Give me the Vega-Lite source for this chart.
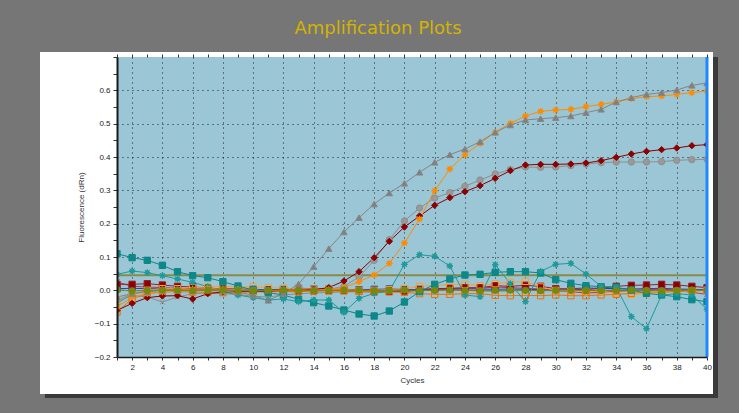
{
"$schema": "https://vega.github.io/schema/vega-lite/v6.json",
"width": 590, "height": 300,
"autosize": "none",
"padding": {"left": 117, "top": 57, "right": 32, "bottom": 56},
"background": "#767676",
"title": {"text": "Amplification Plots", "font": "DejaVu Sans", "fontSize": 18, "fontWeight": "normal", "color": "#d4b300", "anchor": "middle", "frame": "group", "dx": -34, "baseline": "alphabetic", "offset": 0},
"config": {
  "view": {"fill": "#9ac6d6", "stroke": null},
  "axis": {"labelFont": "Liberation Sans", "labelFontSize": 8, "labelColor": "#222", "titleFont": "Liberation Sans", "titleFontSize": 8, "titleFontWeight": "normal", "titleColor": "#333", "tickColor": "#333", "domainColor": "#1a1a1a"}
},
"datasets": {"pcr": [
{"s":"s01","c":1,"v":-0.035},{"s":"s01","c":2,"v":-0.015},{"s":"s01","c":3,"v":-0.02},{"s":"s01","c":4,"v":-0.035},{"s":"s01","c":5,"v":-0.02},{"s":"s01","c":6,"v":-0.01},{"s":"s01","c":7,"v":-0.008},{"s":"s01","c":8,"v":-0.01},{"s":"s01","c":9,"v":-0.012},{"s":"s01","c":10,"v":-0.018},{"s":"s01","c":11,"v":-0.02},{"s":"s01","c":12,"v":-0.014},{"s":"s01","c":13,"v":-0.01},{"s":"s01","c":14,"v":-0.008},{"s":"s01","c":15,"v":-0.006},{"s":"s01","c":16,"v":-0.005},{"s":"s01","c":17,"v":-0.004},{"s":"s01","c":18,"v":-0.003},{"s":"s01","c":19,"v":-0.002},{"s":"s01","c":20,"v":-0.001},{"s":"s01","c":21,"v":0},{"s":"s01","c":22,"v":0.001},{"s":"s01","c":23,"v":0.002},{"s":"s01","c":24,"v":0},{"s":"s01","c":25,"v":-0.002},{"s":"s01","c":26,"v":-0.003},{"s":"s01","c":27,"v":-0.002},{"s":"s01","c":28,"v":0},{"s":"s01","c":29,"v":0.001},{"s":"s01","c":30,"v":0.002},{"s":"s01","c":31,"v":0},{"s":"s01","c":32,"v":-0.002},{"s":"s01","c":33,"v":-0.004},{"s":"s01","c":34,"v":-0.003},{"s":"s01","c":35,"v":-0.002},{"s":"s01","c":36,"v":0},{"s":"s01","c":37,"v":0.002},{"s":"s01","c":38,"v":0.001},{"s":"s01","c":39,"v":0},{"s":"s01","c":40,"v":-0.001},
{"s":"s02","c":1,"v":-0.04},{"s":"s02","c":2,"v":-0.01},{"s":"s02","c":3,"v":-0.003},{"s":"s02","c":4,"v":0},{"s":"s02","c":5,"v":0.002},{"s":"s02","c":6,"v":0.003},{"s":"s02","c":7,"v":0.002},{"s":"s02","c":8,"v":0},{"s":"s02","c":9,"v":-0.002},{"s":"s02","c":10,"v":-0.003},{"s":"s02","c":11,"v":-0.002},{"s":"s02","c":12,"v":0},{"s":"s02","c":13,"v":0.001},{"s":"s02","c":14,"v":0.002},{"s":"s02","c":15,"v":0},{"s":"s02","c":16,"v":-0.001},{"s":"s02","c":17,"v":0},{"s":"s02","c":18,"v":0.001},{"s":"s02","c":19,"v":0},{"s":"s02","c":20,"v":-0.002},{"s":"s02","c":21,"v":-0.001},{"s":"s02","c":22,"v":0},{"s":"s02","c":23,"v":0.002},{"s":"s02","c":24,"v":0.001},{"s":"s02","c":25,"v":0},{"s":"s02","c":26,"v":-0.001},{"s":"s02","c":27,"v":0},{"s":"s02","c":28,"v":0.001},{"s":"s02","c":29,"v":0},{"s":"s02","c":30,"v":-0.002},{"s":"s02","c":31,"v":-0.003},{"s":"s02","c":32,"v":-0.002},{"s":"s02","c":33,"v":0},{"s":"s02","c":34,"v":0.001},{"s":"s02","c":35,"v":0},{"s":"s02","c":36,"v":-0.001},{"s":"s02","c":37,"v":0},{"s":"s02","c":38,"v":0.002},{"s":"s02","c":39,"v":0.001},{"s":"s02","c":40,"v":0},
{"s":"s03","c":1,"v":0.005},{"s":"s03","c":2,"v":0.006},{"s":"s03","c":3,"v":0.005},{"s":"s03","c":4,"v":0.004},{"s":"s03","c":5,"v":0.004},{"s":"s03","c":6,"v":0.003},{"s":"s03","c":7,"v":0.004},{"s":"s03","c":8,"v":0.005},{"s":"s03","c":9,"v":0.004},{"s":"s03","c":10,"v":0.003},{"s":"s03","c":11,"v":0.002},{"s":"s03","c":12,"v":0.003},{"s":"s03","c":13,"v":0.006},{"s":"s03","c":14,"v":0.005},{"s":"s03","c":15,"v":0.004},{"s":"s03","c":16,"v":0.003},{"s":"s03","c":17,"v":0.002},{"s":"s03","c":18,"v":0.003},{"s":"s03","c":19,"v":0.004},{"s":"s03","c":20,"v":0.003},{"s":"s03","c":21,"v":0.002},{"s":"s03","c":22,"v":0.003},{"s":"s03","c":23,"v":0.004},{"s":"s03","c":24,"v":0.005},{"s":"s03","c":25,"v":0.004},{"s":"s03","c":26,"v":0.003},{"s":"s03","c":27,"v":0.004},{"s":"s03","c":28,"v":0.003},{"s":"s03","c":29,"v":0.002},{"s":"s03","c":30,"v":0.003},{"s":"s03","c":31,"v":0.005},{"s":"s03","c":32,"v":0.007},{"s":"s03","c":33,"v":0.006},{"s":"s03","c":34,"v":0.005},{"s":"s03","c":35,"v":0.004},{"s":"s03","c":36,"v":0.005},{"s":"s03","c":37,"v":0.006},{"s":"s03","c":38,"v":0.004},{"s":"s03","c":39,"v":0.003},{"s":"s03","c":40,"v":0.002},
{"s":"s04","c":1,"v":0.025},{"s":"s04","c":2,"v":0.012},{"s":"s04","c":3,"v":0.01},{"s":"s04","c":4,"v":0.008},{"s":"s04","c":5,"v":0.006},{"s":"s04","c":6,"v":0.005},{"s":"s04","c":7,"v":0.004},{"s":"s04","c":8,"v":0.002},{"s":"s04","c":9,"v":0},{"s":"s04","c":10,"v":-0.002},{"s":"s04","c":11,"v":-0.003},{"s":"s04","c":12,"v":-0.002},{"s":"s04","c":13,"v":0},{"s":"s04","c":14,"v":0.001},{"s":"s04","c":15,"v":0},{"s":"s04","c":16,"v":-0.002},{"s":"s04","c":17,"v":-0.004},{"s":"s04","c":18,"v":-0.005},{"s":"s04","c":19,"v":-0.004},{"s":"s04","c":20,"v":-0.003},{"s":"s04","c":21,"v":0},{"s":"s04","c":22,"v":0.002},{"s":"s04","c":23,"v":0.004},{"s":"s04","c":24,"v":0.005},{"s":"s04","c":25,"v":0.006},{"s":"s04","c":26,"v":0.01},{"s":"s04","c":27,"v":0.008},{"s":"s04","c":28,"v":0.006},{"s":"s04","c":29,"v":0.004},{"s":"s04","c":30,"v":0},{"s":"s04","c":31,"v":-0.004},{"s":"s04","c":32,"v":-0.008},{"s":"s04","c":33,"v":-0.006},{"s":"s04","c":34,"v":-0.002},{"s":"s04","c":35,"v":0},{"s":"s04","c":36,"v":0.002},{"s":"s04","c":37,"v":0.004},{"s":"s04","c":38,"v":0},{"s":"s04","c":39,"v":-0.006},{"s":"s04","c":40,"v":-0.012},
{"s":"s05","c":1,"v":0.018},{"s":"s05","c":2,"v":0.018},{"s":"s05","c":3,"v":0.02},{"s":"s05","c":4,"v":0.016},{"s":"s05","c":5,"v":0.012},{"s":"s05","c":6,"v":0.01},{"s":"s05","c":7,"v":0.007},{"s":"s05","c":8,"v":0.004},{"s":"s05","c":9,"v":0.002},{"s":"s05","c":10,"v":0},{"s":"s05","c":11,"v":-0.002},{"s":"s05","c":12,"v":-0.003},{"s":"s05","c":13,"v":-0.002},{"s":"s05","c":14,"v":-0.001},{"s":"s05","c":15,"v":0},{"s":"s05","c":16,"v":0.001},{"s":"s05","c":17,"v":-0.002},{"s":"s05","c":18,"v":-0.004},{"s":"s05","c":19,"v":-0.003},{"s":"s05","c":20,"v":-0.002},{"s":"s05","c":21,"v":0.003},{"s":"s05","c":22,"v":0.005},{"s":"s05","c":23,"v":0.006},{"s":"s05","c":24,"v":0.008},{"s":"s05","c":25,"v":0.008},{"s":"s05","c":26,"v":0.014},{"s":"s05","c":27,"v":0.012},{"s":"s05","c":28,"v":0.015},{"s":"s05","c":29,"v":0.012},{"s":"s05","c":30,"v":0.005},{"s":"s05","c":31,"v":0.003},{"s":"s05","c":32,"v":0.002},{"s":"s05","c":33,"v":0.006},{"s":"s05","c":34,"v":0.012},{"s":"s05","c":35,"v":0.015},{"s":"s05","c":36,"v":0.016},{"s":"s05","c":37,"v":0.018},{"s":"s05","c":38,"v":0.016},{"s":"s05","c":39,"v":0.012},{"s":"s05","c":40,"v":0.008},
{"s":"s06","c":1,"v":-0.03},{"s":"s06","c":2,"v":-0.01},{"s":"s06","c":3,"v":0},{"s":"s06","c":4,"v":0.005},{"s":"s06","c":5,"v":0.005},{"s":"s06","c":6,"v":0.008},{"s":"s06","c":7,"v":0.01},{"s":"s06","c":8,"v":0.012},{"s":"s06","c":9,"v":0.01},{"s":"s06","c":10,"v":0.011},{"s":"s06","c":11,"v":0.008},{"s":"s06","c":12,"v":0.006},{"s":"s06","c":13,"v":0.005},{"s":"s06","c":14,"v":0.004},{"s":"s06","c":15,"v":0.004},{"s":"s06","c":16,"v":0.003},{"s":"s06","c":17,"v":0},{"s":"s06","c":18,"v":0},{"s":"s06","c":19,"v":0.002},{"s":"s06","c":20,"v":0.005},{"s":"s06","c":21,"v":0.012},{"s":"s06","c":22,"v":0.015},{"s":"s06","c":23,"v":0.018},{"s":"s06","c":24,"v":0.018},{"s":"s06","c":25,"v":0.014},{"s":"s06","c":26,"v":0.02},{"s":"s06","c":27,"v":0.024},{"s":"s06","c":28,"v":0.027},{"s":"s06","c":29,"v":0.01},{"s":"s06","c":30,"v":0},{"s":"s06","c":31,"v":-0.002},{"s":"s06","c":32,"v":-0.004},{"s":"s06","c":33,"v":-0.003},{"s":"s06","c":34,"v":-0.008},{"s":"s06","c":35,"v":-0.012},{"s":"s06","c":36,"v":-0.01},{"s":"s06","c":37,"v":-0.006},{"s":"s06","c":38,"v":-0.005},{"s":"s06","c":39,"v":-0.002},{"s":"s06","c":40,"v":0},
{"s":"s07","c":1,"v":-0.065},{"s":"s07","c":2,"v":-0.025},{"s":"s07","c":3,"v":-0.01},{"s":"s07","c":4,"v":-0.005},{"s":"s07","c":5,"v":-0.004},{"s":"s07","c":6,"v":-0.005},{"s":"s07","c":7,"v":-0.006},{"s":"s07","c":8,"v":-0.007},{"s":"s07","c":9,"v":-0.006},{"s":"s07","c":10,"v":-0.005},{"s":"s07","c":11,"v":-0.004},{"s":"s07","c":12,"v":-0.004},{"s":"s07","c":13,"v":-0.004},{"s":"s07","c":14,"v":-0.002},{"s":"s07","c":15,"v":-0.002},{"s":"s07","c":16,"v":-0.002},{"s":"s07","c":17,"v":-0.003},{"s":"s07","c":18,"v":-0.004},{"s":"s07","c":19,"v":-0.005},{"s":"s07","c":20,"v":-0.006},{"s":"s07","c":21,"v":-0.01},{"s":"s07","c":22,"v":-0.012},{"s":"s07","c":23,"v":-0.012},{"s":"s07","c":24,"v":-0.01},{"s":"s07","c":25,"v":-0.01},{"s":"s07","c":26,"v":-0.015},{"s":"s07","c":27,"v":-0.016},{"s":"s07","c":28,"v":-0.015},{"s":"s07","c":29,"v":-0.016},{"s":"s07","c":30,"v":-0.014},{"s":"s07","c":31,"v":-0.016},{"s":"s07","c":32,"v":-0.016},{"s":"s07","c":33,"v":-0.014},{"s":"s07","c":34,"v":-0.012},{"s":"s07","c":35,"v":-0.009},{"s":"s07","c":36,"v":-0.005},{"s":"s07","c":37,"v":-0.005},{"s":"s07","c":38,"v":-0.003},{"s":"s07","c":39,"v":-0.002},{"s":"s07","c":40,"v":0},
{"s":"s08","c":1,"v":0.11},{"s":"s08","c":2,"v":0.098},{"s":"s08","c":3,"v":0.09},{"s":"s08","c":4,"v":0.075},{"s":"s08","c":5,"v":0.056},{"s":"s08","c":6,"v":0.044},{"s":"s08","c":7,"v":0.038},{"s":"s08","c":8,"v":0.026},{"s":"s08","c":9,"v":0.013},{"s":"s08","c":10,"v":0.001},{"s":"s08","c":11,"v":-0.007},{"s":"s08","c":12,"v":-0.014},{"s":"s08","c":13,"v":-0.027},{"s":"s08","c":14,"v":-0.037},{"s":"s08","c":15,"v":-0.047},{"s":"s08","c":16,"v":-0.059},{"s":"s08","c":17,"v":-0.071},{"s":"s08","c":18,"v":-0.077},{"s":"s08","c":19,"v":-0.062},{"s":"s08","c":20,"v":-0.035},{"s":"s08","c":21,"v":-0.004},{"s":"s08","c":22,"v":0.018},{"s":"s08","c":23,"v":0.034},{"s":"s08","c":24,"v":0.046},{"s":"s08","c":25,"v":0.048},{"s":"s08","c":26,"v":0.054},{"s":"s08","c":27,"v":0.056},{"s":"s08","c":28,"v":0.056},{"s":"s08","c":29,"v":0.052},{"s":"s08","c":30,"v":0.032},{"s":"s08","c":31,"v":0.021},{"s":"s08","c":32,"v":0.014},{"s":"s08","c":33,"v":0.011},{"s":"s08","c":34,"v":0.009},{"s":"s08","c":35,"v":0.001},{"s":"s08","c":36,"v":-0.009},{"s":"s08","c":37,"v":-0.014},{"s":"s08","c":38,"v":-0.019},{"s":"s08","c":39,"v":-0.028},{"s":"s08","c":40,"v":-0.034},
{"s":"s09","c":1,"v":0.048},{"s":"s09","c":2,"v":0.058},{"s":"s09","c":3,"v":0.053},{"s":"s09","c":4,"v":0.044},{"s":"s09","c":5,"v":0.034},{"s":"s09","c":6,"v":0.024},{"s":"s09","c":7,"v":0.011},{"s":"s09","c":8,"v":-0.004},{"s":"s09","c":9,"v":-0.014},{"s":"s09","c":10,"v":-0.022},{"s":"s09","c":11,"v":-0.029},{"s":"s09","c":12,"v":-0.026},{"s":"s09","c":13,"v":-0.034},{"s":"s09","c":14,"v":-0.029},{"s":"s09","c":15,"v":-0.029},{"s":"s09","c":16,"v":-0.066},{"s":"s09","c":17,"v":-0.024},{"s":"s09","c":18,"v":-0.009},{"s":"s09","c":19,"v":-0.002},{"s":"s09","c":20,"v":0.078},{"s":"s09","c":21,"v":0.107},{"s":"s09","c":22,"v":0.102},{"s":"s09","c":23,"v":0.073},{"s":"s09","c":24,"v":-0.014},{"s":"s09","c":25,"v":-0.019},{"s":"s09","c":26,"v":0.077},{"s":"s09","c":27,"v":0.02},{"s":"s09","c":28,"v":-0.034},{"s":"s09","c":29,"v":0.057},{"s":"s09","c":30,"v":0.078},{"s":"s09","c":31,"v":0.081},{"s":"s09","c":32,"v":0.049},{"s":"s09","c":33,"v":0.012},{"s":"s09","c":34,"v":0.01},{"s":"s09","c":35,"v":-0.079},{"s":"s09","c":36,"v":-0.115},{"s":"s09","c":37,"v":-0.014},{"s":"s09","c":38,"v":-0.01},{"s":"s09","c":39,"v":-0.014},{"s":"s09","c":40,"v":-0.057},
{"s":"s10","c":1,"v":-0.03},{"s":"s10","c":2,"v":-0.01},{"s":"s10","c":3,"v":-0.002},{"s":"s10","c":4,"v":0},{"s":"s10","c":5,"v":0.001},{"s":"s10","c":6,"v":0},{"s":"s10","c":7,"v":-0.001},{"s":"s10","c":8,"v":0},{"s":"s10","c":9,"v":0.001},{"s":"s10","c":10,"v":0},{"s":"s10","c":11,"v":-0.001},{"s":"s10","c":12,"v":0},{"s":"s10","c":13,"v":0},{"s":"s10","c":14,"v":0.001},{"s":"s10","c":15,"v":0.003},{"s":"s10","c":16,"v":0.012},{"s":"s10","c":17,"v":0.04},{"s":"s10","c":18,"v":0.09},{"s":"s10","c":19,"v":0.152},{"s":"s10","c":20,"v":0.208},{"s":"s10","c":21,"v":0.247},{"s":"s10","c":22,"v":0.277},{"s":"s10","c":23,"v":0.293},{"s":"s10","c":24,"v":0.312},{"s":"s10","c":25,"v":0.331},{"s":"s10","c":26,"v":0.349},{"s":"s10","c":27,"v":0.362},{"s":"s10","c":28,"v":0.37},{"s":"s10","c":29,"v":0.369},{"s":"s10","c":30,"v":0.37},{"s":"s10","c":31,"v":0.374},{"s":"s10","c":32,"v":0.379},{"s":"s10","c":33,"v":0.383},{"s":"s10","c":34,"v":0.385},{"s":"s10","c":35,"v":0.385},{"s":"s10","c":36,"v":0.385},{"s":"s10","c":37,"v":0.386},{"s":"s10","c":38,"v":0.39},{"s":"s10","c":39,"v":0.392},{"s":"s10","c":40,"v":0.393},
{"s":"s11","c":1,"v":-0.06},{"s":"s11","c":2,"v":-0.039},{"s":"s11","c":3,"v":-0.022},{"s":"s11","c":4,"v":-0.017},{"s":"s11","c":5,"v":-0.016},{"s":"s11","c":6,"v":-0.026},{"s":"s11","c":7,"v":-0.01},{"s":"s11","c":8,"v":-0.005},{"s":"s11","c":9,"v":-0.003},{"s":"s11","c":10,"v":-0.002},{"s":"s11","c":11,"v":-0.002},{"s":"s11","c":12,"v":0},{"s":"s11","c":13,"v":0},{"s":"s11","c":14,"v":0.002},{"s":"s11","c":15,"v":0.008},{"s":"s11","c":16,"v":0.028},{"s":"s11","c":17,"v":0.056},{"s":"s11","c":18,"v":0.098},{"s":"s11","c":19,"v":0.147},{"s":"s11","c":20,"v":0.19},{"s":"s11","c":21,"v":0.223},{"s":"s11","c":22,"v":0.255},{"s":"s11","c":23,"v":0.278},{"s":"s11","c":24,"v":0.296},{"s":"s11","c":25,"v":0.314},{"s":"s11","c":26,"v":0.336},{"s":"s11","c":27,"v":0.359},{"s":"s11","c":28,"v":0.376},{"s":"s11","c":29,"v":0.378},{"s":"s11","c":30,"v":0.378},{"s":"s11","c":31,"v":0.379},{"s":"s11","c":32,"v":0.382},{"s":"s11","c":33,"v":0.389},{"s":"s11","c":34,"v":0.399},{"s":"s11","c":35,"v":0.409},{"s":"s11","c":36,"v":0.417},{"s":"s11","c":37,"v":0.422},{"s":"s11","c":38,"v":0.427},{"s":"s11","c":39,"v":0.434},{"s":"s11","c":40,"v":0.437},
{"s":"s12","c":1,"v":-0.05},{"s":"s12","c":2,"v":-0.02},{"s":"s12","c":3,"v":-0.01},{"s":"s12","c":4,"v":-0.005},{"s":"s12","c":5,"v":0},{"s":"s12","c":6,"v":0.003},{"s":"s12","c":7,"v":0.005},{"s":"s12","c":8,"v":0.004},{"s":"s12","c":9,"v":0.002},{"s":"s12","c":10,"v":0},{"s":"s12","c":11,"v":0},{"s":"s12","c":12,"v":-0.002},{"s":"s12","c":13,"v":0},{"s":"s12","c":14,"v":0},{"s":"s12","c":15,"v":0.002},{"s":"s12","c":16,"v":0.008},{"s":"s12","c":17,"v":0.026},{"s":"s12","c":18,"v":0.046},{"s":"s12","c":19,"v":0.081},{"s":"s12","c":20,"v":0.142},{"s":"s12","c":21,"v":0.214},{"s":"s12","c":22,"v":0.299},{"s":"s12","c":23,"v":0.364},{"s":"s12","c":24,"v":0.407},{"s":"s12","c":25,"v":0.441},{"s":"s12","c":26,"v":0.474},{"s":"s12","c":27,"v":0.501},{"s":"s12","c":28,"v":0.523},{"s":"s12","c":29,"v":0.537},{"s":"s12","c":30,"v":0.541},{"s":"s12","c":31,"v":0.543},{"s":"s12","c":32,"v":0.551},{"s":"s12","c":33,"v":0.558},{"s":"s12","c":34,"v":0.565},{"s":"s12","c":35,"v":0.575},{"s":"s12","c":36,"v":0.581},{"s":"s12","c":37,"v":0.583},{"s":"s12","c":38,"v":0.588},{"s":"s12","c":39,"v":0.593},{"s":"s12","c":40,"v":0.598},
{"s":"s13","c":1,"v":-0.02},{"s":"s13","c":2,"v":-0.01},{"s":"s13","c":3,"v":-0.005},{"s":"s13","c":4,"v":0},{"s":"s13","c":5,"v":0},{"s":"s13","c":6,"v":0},{"s":"s13","c":7,"v":0},{"s":"s13","c":8,"v":-0.003},{"s":"s13","c":9,"v":-0.005},{"s":"s13","c":10,"v":-0.015},{"s":"s13","c":11,"v":-0.03},{"s":"s13","c":12,"v":-0.01},{"s":"s13","c":13,"v":0.019},{"s":"s13","c":14,"v":0.071},{"s":"s13","c":15,"v":0.125},{"s":"s13","c":16,"v":0.175},{"s":"s13","c":17,"v":0.218},{"s":"s13","c":18,"v":0.259},{"s":"s13","c":19,"v":0.292},{"s":"s13","c":20,"v":0.321},{"s":"s13","c":21,"v":0.354},{"s":"s13","c":22,"v":0.384},{"s":"s13","c":23,"v":0.407},{"s":"s13","c":24,"v":0.424},{"s":"s13","c":25,"v":0.446},{"s":"s13","c":26,"v":0.474},{"s":"s13","c":27,"v":0.496},{"s":"s13","c":28,"v":0.511},{"s":"s13","c":29,"v":0.515},{"s":"s13","c":30,"v":0.518},{"s":"s13","c":31,"v":0.523},{"s":"s13","c":32,"v":0.533},{"s":"s13","c":33,"v":0.543},{"s":"s13","c":34,"v":0.565},{"s":"s13","c":35,"v":0.578},{"s":"s13","c":36,"v":0.588},{"s":"s13","c":37,"v":0.593},{"s":"s13","c":38,"v":0.601},{"s":"s13","c":39,"v":0.615},{"s":"s13","c":40,"v":0.622},
{"s":"s14","c":1,"v":0.002},{"s":"s14","c":2,"v":-0.002},{"s":"s14","c":3,"v":0},{"s":"s14","c":4,"v":0.001},{"s":"s14","c":5,"v":0},{"s":"s14","c":6,"v":-0.001},{"s":"s14","c":7,"v":0},{"s":"s14","c":8,"v":0.001},{"s":"s14","c":9,"v":0},{"s":"s14","c":10,"v":-0.001},{"s":"s14","c":11,"v":0},{"s":"s14","c":12,"v":0.001},{"s":"s14","c":13,"v":0},{"s":"s14","c":14,"v":-0.001},{"s":"s14","c":15,"v":0},{"s":"s14","c":16,"v":0.001},{"s":"s14","c":17,"v":0},{"s":"s14","c":18,"v":-0.001},{"s":"s14","c":19,"v":0},{"s":"s14","c":20,"v":0.001},{"s":"s14","c":21,"v":0},{"s":"s14","c":22,"v":0},{"s":"s14","c":23,"v":0.001},{"s":"s14","c":24,"v":0},{"s":"s14","c":25,"v":-0.001},{"s":"s14","c":26,"v":0},{"s":"s14","c":27,"v":0.001},{"s":"s14","c":28,"v":0},{"s":"s14","c":29,"v":-0.001},{"s":"s14","c":30,"v":0},{"s":"s14","c":31,"v":0.001},{"s":"s14","c":32,"v":0},{"s":"s14","c":33,"v":-0.001},{"s":"s14","c":34,"v":0},{"s":"s14","c":35,"v":0.001},{"s":"s14","c":36,"v":0},{"s":"s14","c":37,"v":-0.001},{"s":"s14","c":38,"v":0},{"s":"s14","c":39,"v":0.001},{"s":"s14","c":40,"v":0}
]},
"layer": [
  {"data": {"values": [{}]}, "mark": {"type": "rect", "color": "#ffffff"},
   "encoding": {
     "x": {"datum": -4.09, "type": "quantitative", "scale": {"domain": [1, 40], "nice": false, "zero": false},
           "axis": {"orient": "bottom", "grid": true, "values": [2,4,6,8,10,12,14,16,18,20,22,24,26,28,30,32,34,36,38,40], "ticks": false, "labels": false, "domain": false, "title": null, "zindex": 0, "gridColor": "#000000", "gridDash": [1, 4], "gridOpacity": 0.85}},
     "x2": {"datum": 1},
     "y": {"datum": -0.2, "type": "quantitative", "scale": {"domain": [-0.2, 0.7], "nice": false, "zero": false},
           "axis": {"orient": "left", "grid": true, "values": [-0.1, 0, 0.1, 0.2, 0.3, 0.4, 0.5, 0.6], "ticks": false, "labels": false, "domain": false, "title": null, "zindex": 0, "gridColor": "#000000", "gridDash": [1, 4], "gridOpacity": 0.85}},
     "y2": {"datum": 0.7}}},
  {"data": {"values": [{}]}, "mark": {"type": "rect", "color": "#ffffff"},
   "encoding": {"x": {"datum": -4.09, "type": "quantitative", "axis": null}, "x2": {"datum": 40.397},
                "y": {"datum": 0.7, "type": "quantitative", "axis": null}, "y2": {"datum": 0.715}}},
  {"data": {"values": [{}]}, "mark": {"type": "rect", "color": "#ffffff"},
   "encoding": {"x": {"datum": -4.09, "type": "quantitative", "axis": null}, "x2": {"datum": 40.397},
                "y": {"datum": -0.311, "type": "quantitative", "axis": null}, "y2": {"datum": -0.2}}},
  {"data": {"values": [{}]}, "mark": {"type": "rect", "color": "#ffffff"},
   "encoding": {"x": {"datum": 40, "type": "quantitative", "axis": null}, "x2": {"datum": 40.397},
                "y": {"datum": -0.2, "type": "quantitative", "axis": null}, "y2": {"datum": 0.7}}},
  {"data": {"values": [{}]}, "mark": {"type": "rect", "color": "#3a3a3a"},
   "encoding": {"x": {"datum": 40.397, "type": "quantitative", "axis": null}, "x2": {"datum": 40.727},
                "y": {"datum": -0.323, "type": "quantitative", "axis": null}, "y2": {"datum": 0.7}}},
  {"data": {"values": [{}]}, "mark": {"type": "rect", "color": "#3a3a3a"},
   "encoding": {"x": {"datum": -3.76, "type": "quantitative", "axis": null}, "x2": {"datum": 40.727},
                "y": {"datum": -0.323, "type": "quantitative", "axis": null}, "y2": {"datum": -0.311}}},
  {"data": {"values": [{}]}, "mark": {"type": "rule", "color": "#8a8a48", "strokeWidth": 2},
   "encoding": {"y": {"datum": 0.045, "type": "quantitative", "axis": null}}},
  {"data": {"name": "pcr"}, "mark": {"type": "line", "strokeWidth": 1, "clip": true},
   "encoding": {
     "x": {"field": "c", "type": "quantitative", "scale": {"domain": [1, 40], "nice": false, "zero": false},
           "axis": {"orient": "bottom", "values": [1,2,3,4,5,6,7,8,9,10,11,12,13,14,15,16,17,18,19,20,21,22,23,24,25,26,27,28,29,30,31,32,33,34,35,36,37,38,39,40], "labelExpr": "datum.value % 2 == 0 ? datum.label : ''", "labelFlush": false, "labelOverlap": false, "tickSize": 3, "labelPadding": 3, "grid": false, "title": "Cycles", "titlePadding": 5, "zindex": 1, "domainWidth": 1.5}},
     "y": {"field": "v", "type": "quantitative", "scale": {"domain": [-0.2, 0.7], "nice": false, "zero": false},
           "axis": {"orient": "left", "values": [-0.2,-0.15,-0.1,-0.05,0,0.05,0.1,0.15,0.2,0.25,0.3,0.35,0.4,0.45,0.5,0.55,0.6,0.65,0.7], "format": ".1f", "labelExpr": "abs(round(datum.value*100)) % 10 == 0 && datum.value < 0.65 ? datum.label : ''", "labelFlush": false, "labelOverlap": false, "tickSize": 4, "labelPadding": 3, "grid": false, "title": "Fluorescence (dRn)", "titlePadding": 9, "zindex": 1, "domainWidth": 2}},
     "stroke": {"field": "s", "type": "nominal", "legend": null,
                "scale": {"domain": ["s01","s02","s03","s04","s05","s06","s07","s08","s09","s10","s11","s12","s13","s14"],
                          "range": ["#8c8c8c","#2aa6b6","#30409c","#b2384e","#9a1c2a","#ff9d2a","#f07000","#0c8888","#1d9a9a","#8e8e8e","#8b0000","#ff8c00","#858585","#76890e"]}},
     "order": {"field": "c", "type": "quantitative"}}},
  {"data": {"name": "pcr"}, "mark": {"type": "point", "size": 40, "strokeWidth": 1, "opacity": 1, "clip": true},
   "encoding": {
     "x": {"field": "c", "type": "quantitative",
           "axis": {"orient": "top", "values": [1,2,3,4,5,6,7,8,9,10,11,12,13,14,15,16,17,18,19,20,21,22,23,24,25,26,27,28,29,30,31,32,33,34,35,36,37,38,39,40], "labels": false, "tickSize": 3, "domain": false, "grid": false, "title": null, "zindex": 1}},
     "y": {"field": "v", "type": "quantitative", "axis": null},
     "stroke": {"field": "s", "type": "nominal", "legend": null},
     "fill": {"field": "s", "type": "nominal", "legend": null,
              "scale": {"domain": ["s01","s02","s03","s04","s05","s06","s07","s08","s09","s10","s11","s12","s13","s14"],
                        "range": ["transparent","#2aa6b6","#30409c","transparent","#8b0000","transparent","transparent","#0c8888","#1d9a9a","#999999","#8b0000","#ff8c00","#808080","#76890e"]}},
     "shape": {"field": "s", "type": "nominal", "legend": null,
               "scale": {"domain": ["s01","s02","s03","s04","s05","s06","s07","s08","s09","s10","s11","s12","s13","s14"],
                         "range": ["M-0.8,-0.8L0.8,0.8M0.8,-0.8L-0.8,0.8","diamond","square","M-0.8,-0.8L0.8,0.8M0.8,-0.8L-0.8,0.8","square","square","square","square","M0,-1L0.22,-0.38L0.71,-0.71L0.38,-0.22L1,0L0.38,0.22L0.71,0.71L0.22,0.38L0,1L-0.22,0.38L-0.71,0.71L-0.38,0.22L-1,0L-0.38,-0.22L-0.71,-0.71L-0.22,-0.38Z","circle","diamond","M0,-1L0.22,-0.38L0.71,-0.71L0.38,-0.22L1,0L0.38,0.22L0.71,0.71L0.22,0.38L0,1L-0.22,0.38L-0.71,0.71L-0.38,0.22L-1,0L-0.38,-0.22L-0.71,-0.71L-0.22,-0.38Z","triangle-up","circle"]}}}},
  {"data": {"values": [{}]}, "mark": {"type": "rule", "color": "#1e88ff", "strokeWidth": 3},
   "encoding": {"x": {"datum": 40, "type": "quantitative", "axis": null}}}
],
"resolve": {"axis": {"x": "independent", "y": "independent"}}
}
